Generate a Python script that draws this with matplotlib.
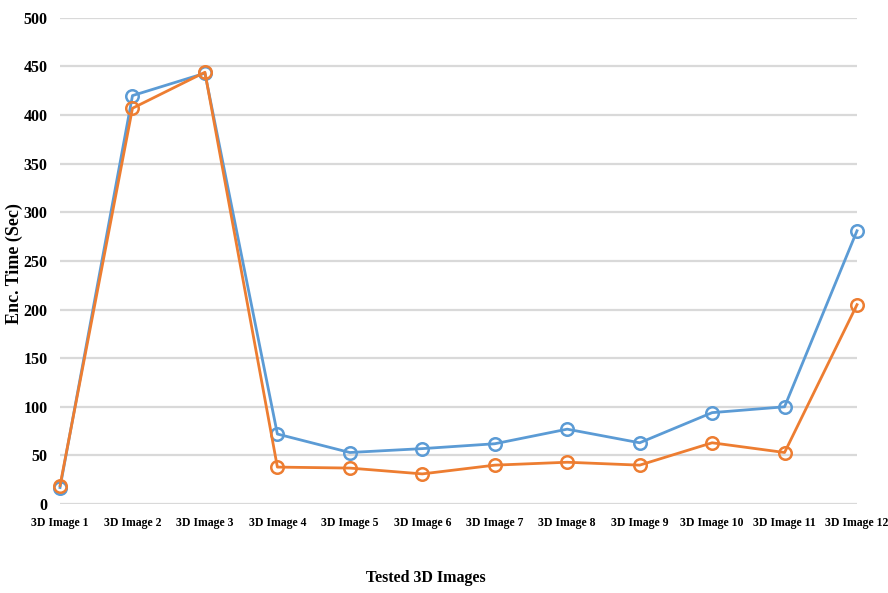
import matplotlib.pyplot as plt

# Encryption time per tested 3D image (seconds)
images = [f"3D Image {i}" for i in range(1, 13)]
time_blue = [17, 420, 443, 72, 53, 57, 62, 77, 63, 94, 100, 281]
time_orange = [19, 407, 444, 38, 37, 31, 40, 43, 40, 63, 53, 205]
y_ticks = [0, 50, 100, 150, 200, 250, 300, 350, 400, 450, 500]

plt.rcParams["font.family"] = ["Liberation Serif", "DejaVu Serif"]
plt.rcParams["font.weight"] = "bold"

fig = plt.figure(figsize=(8.88, 5.93), dpi=100)
ax = fig.add_axes([0.0676, 0.150, 0.8975, 0.820])

x = list(range(1, len(images) + 1))
ax.plot(x, time_blue, color="#5B9BD5", linewidth=2, marker="o", markersize=9,
        markerfacecolor="none", markeredgewidth=1.8, clip_on=False, zorder=3)
ax.plot(x, time_orange, color="#ED7D31", linewidth=2, marker="o", markersize=9,
        markerfacecolor="none", markeredgewidth=1.8, clip_on=False, zorder=4)

ax.set_xlim(1, 12)
ax.set_ylim(0, 500)
ax.set_yticks(y_ticks)
ax.set_xticks(x)
ax.set_xticklabels(images, fontsize=8.5, fontweight="bold")
ax.tick_params(axis="y", labelsize=11.5, length=0, pad=9)
ax.tick_params(axis="x", length=0, pad=9)
for lbl in ax.get_yticklabels():
    lbl.set_fontweight("bold")

ax.grid(axis="y", color="#D9D9D9", linewidth=1.6)
ax.set_axisbelow(True)
for s in ax.spines.values():
    s.set_visible(False)

fig.text(0.479, 0.025, "Tested 3D Images", fontsize=11.5, fontweight="bold",
         ha="center", va="center")
fig.text(0.016, 0.556, "Enc. Time (Sec)", fontsize=13, fontweight="bold",
         rotation=90, ha="center", va="center")

fig.savefig("out.png", dpi=100)
